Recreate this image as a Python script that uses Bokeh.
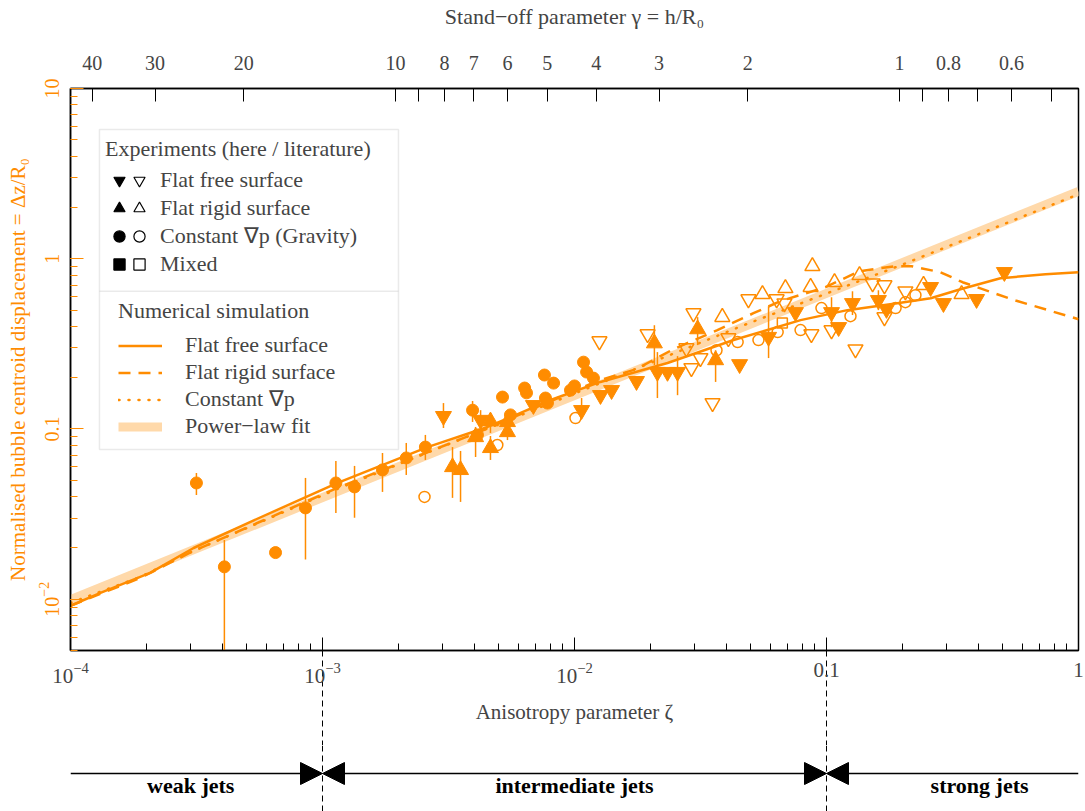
import math
from bokeh.plotting import figure
from bokeh.layouts import column
from bokeh.models import (LogAxis, FixedTicker, Range1d, Legend, LegendItem,
                          BoxAnnotation, Arrow, NormalHead, Span, LogTickFormatter)
from bokeh.embed import file_html
from bokeh.resources import INLINE
from bokeh.core.properties import value

FONT = "Liberation Serif"
ORANGE = "#FF8C00"
FIT_COLOR = "#FFD9AA"
NAN = float("nan")

# ---------------- data ----------------
# Experiments, here: constant grad p (gravity) - filled circles
zeta_grav_here = [3.16e-4, 4.08e-4, 6.51e-4, 8.56e-4, 1.13e-3, 1.34e-3, 1.73e-3, 2.15e-3,
                  2.56e-3, 3.94e-3, 5.18e-3, 4.12e-3, 5.57e-3, 6.34e-3, 6.45e-3, 7.60e-3,
                  8.26e-3, 7.67e-3, 7.81e-3, 9.64e-3, 1.00e-2, 1.086e-2, 1.117e-2, 1.189e-2]
dz_grav_here = [0.0482, 0.0155, 0.0188, 0.0344, 0.0482, 0.0457, 0.0575, 0.0676,
                0.0783, 0.129, 0.154, 0.0923, 0.121, 0.174, 0.163, 0.2075,
                0.186, 0.152, 0.142, 0.169, 0.179, 0.247, 0.216, 0.199]
lo_grav_here = [0.0410, 0.004, None, 0.0171, 0.0321, 0.0301, 0.0427, 0.0537,
                0.0658, 0.110, 0.142] + [None] * 13
hi_grav_here = [0.0552, 0.0223, None, 0.0516, 0.0649, 0.0607, 0.0723, 0.0828,
                0.0923, 0.146, 0.165] + [None] * 13

# Experiments, here: flat rigid surface - filled up triangles
zeta_rigid_here = [3.28e-3, 3.53e-3, 4.05e-3, 4.64e-3, 4.64e-3, 5.42e-3, 5.42e-3,
                   2.075e-2, 3.08e-2, 3.63e-2]
dz_rigid_here = [0.0598, 0.0575, 0.0897, 0.111, 0.0774, 0.110, 0.0960, 0.319, 0.386, 0.254]
lo_rigid_here = [0.0394, 0.0373, 0.0685, 0.0948, 0.0658, None, 0.0861, 0.237, 0.311, 0.189]
hi_rigid_here = [0.0783, 0.0743, 0.1028, 0.124, 0.0910, None, 0.107, 0.407, 0.454, 0.290]

# Experiments, here: flat free surface - filled down triangles
zeta_free_here = [3.02e-3, 4.24e-3, 6.87e-3, 1.067e-2, 1.268e-2, 1.403e-2, 1.762e-2,
                  2.133e-2, 2.339e-2, 2.564e-2, 4.52e-2, 5.89e-2, 7.53e-2, 0.1047,
                  0.1117, 0.1268, 0.1607, 0.173, 0.2588, 0.2911, 0.394, 0.508]
dz_free_here = [0.119, 0.113, 0.138, 0.129, 0.158, 0.169, 0.191, 0.216, 0.216, 0.216,
                0.240, 0.347, 0.485, 0.485, 0.396, 0.548, 0.571, 0.506, 0.681, 0.548,
                0.579, 0.834]
lo_free_here = [0.1014, 0.0986, None, 0.116, None, None, None, 0.152, None, 0.158,
                None, 0.261, None, 0.396, None, 0.467, 0.499, None, None, None, None, None]
hi_free_here = [0.142, 0.129, None, 0.152, None, None, None, 0.283, None, 0.268,
                None, 0.526, None, 0.594, None, 0.644, 0.653, None, None, None, None, None]

# Literature: flat free surface - open down triangles
zeta_free_lit = [0.01256, 0.0195, 0.02965, 0.0278, 0.0291, 0.0316, 0.0353, 0.0408, 0.049,
                 0.0634, 0.0681, 0.0871, 0.1047, 0.1303, 0.1524, 0.1698, 0.1698, 0.2056]
dz_free_lit = [0.328, 0.361, 0.479, 0.2985, 0.228, 0.261, 0.142, 0.342, 0.579,
               0.579, 0.548, 0.361, 0.381, 0.294, 0.718, 0.700, 0.454, 0.644]

# Literature: flat rigid surface - open up triangles
zeta_rigid_lit = [0.0386, 0.0557, 0.0687, 0.0879, 0.0865, 0.1076, 0.1352, 0.2427, 0.3436]
dz_rigid_lit = [0.454, 0.619, 0.671, 0.904, 0.681, 0.728, 0.800, 0.700, 0.619]

# Literature: constant grad p - open circles
zeta_grav_lit = [2.54e-3, 4.94e-3, 1.009e-2, 0.0366, 0.0444, 0.0537, 0.064, 0.0789,
                 0.0955, 0.1245, 0.188, 0.2056, 0.2254]
dz_grav_lit = [0.0399, 0.0805, 0.116, 0.290, 0.324, 0.333, 0.371, 0.381,
               0.513, 0.460, 0.513, 0.556, 0.611]

# Literature: mixed - open squares
zeta_mixed_lit = [0.0668]
dz_mixed_lit = [0.419]

# Numerical simulations
zeta_sim_free = [1.0e-4, 1.315e-4, 2.07e-4, 3.08e-4, 5.18e-4, 1.148e-3, 2.61e-3, 4.52e-3,
                 8.04e-3, 1.268e-2, 2.34e-2, 4.28e-2, 7.89e-2, 0.121, 0.191, 0.259,
                 0.340, 0.490, 0.740, 1.0]
dz_sim_free = [0.00916, 0.0109, 0.0143, 0.0200, 0.0285, 0.0482, 0.0783, 0.1028,
               0.148, 0.189, 0.244, 0.333, 0.436, 0.499, 0.548, 0.586,
               0.662, 0.769, 0.811, 0.834]

zeta_sim_rigid = [1.0e-4, 1.897e-4, 3.08e-4, 1.148e-3, 4.36e-3, 1.233e-2, 1.762e-2, 2.47e-2,
                  3.69e-2, 5.13e-2, 6.56e-2, 9.91e-2, 0.1352, 0.1862, 0.2173, 0.283,
                  0.3467, 0.557, 1.0]
dz_sim_rigid = [0.00916, 0.01337, 0.01923, 0.0451, 0.0986, 0.1914, 0.2249, 0.2944,
                0.381, 0.4786, 0.5636, 0.681, 0.845, 0.904, 0.904, 0.834,
                0.728, 0.571, 0.4416]

zeta_sim_grav = [1.0e-4, 1.897e-4, 3.08e-4, 1.148e-3, 4.36e-3, 1.268e-2, 4.69e-2, 0.197, 1.0]
dz_sim_grav = [0.00953, 0.01355, 0.01923, 0.0445, 0.0986, 0.186, 0.407, 0.916, 2.39]

# Power-law fit (end points)
zeta_fit = [1.0e-4, 1.0]
dz_fit = [0.00995, 2.49]

# Top axis: stand-off parameter, zeta = 0.195 gamma^-2
gamma_major = [40, 30, 20, 10, 8, 7, 6, 5, 4, 3, 2, 1, 0.8, 0.6]
gamma_minor = [9, 0.9, 0.7, 0.5]

# Jet regimes
regime_bounds = [1e-4, 1e-3, 0.1, 1.0]
regime_labels = ["weak jets", "intermediate jets", "strong jets"]
regime_label_x = [3.0e-4, 1.0e-2, 0.405]

# ---------------- figure ----------------
p = figure(width=1085, height=745, x_axis_type="log", y_axis_type="log",
           x_range=Range1d(1e-4, 1.0), y_range=Range1d(0.005, 10.0),
           output_backend="svg", toolbar_location=None,
           min_border_left=70, min_border_right=7, min_border_top=88, min_border_bottom=95,
           outline_line_color="black", outline_line_width=1.5)
p.grid.visible = False

def style_axis(ax, label_size="20px"):
    ax.axis_label_text_font = FONT
    ax.axis_label_text_font_style = "normal"
    ax.axis_label_text_font_size = "21px"
    ax.major_label_text_font = FONT
    ax.major_label_text_font_size = label_size
    ax.axis_line_width = 1.5
    ax.major_tick_in = 13
    ax.major_tick_out = 0
    ax.minor_tick_in = 7
    ax.minor_tick_out = 0
    ax.major_tick_line_width = 1
    ax.minor_tick_line_width = 1

xa = p.xaxis[0]
style_axis(xa, "21px")
xa.axis_label = "Anisotropy parameter ζ"
xa.formatter = LogTickFormatter(min_exponent=2)
xa.major_label_standoff = 12
xa.axis_label_standoff = 14

ya = p.yaxis[0]
style_axis(ya, "20px")
ya.axis_label = "Normalised bubble centroid displacement = Δz/R₀"
ya.axis_label_text_color = ORANGE
ya.major_label_text_color = ORANGE
ya.major_tick_line_color = ORANGE
ya.minor_tick_line_color = ORANGE
ya.formatter = LogTickFormatter(min_exponent=2)
ya.major_label_orientation = "vertical"
ya.major_label_standoff = 12
ya.axis_label_standoff = 6

top_major = [0.195 / g ** 2 for g in gamma_major]
top_minor = [0.195 / g ** 2 for g in gamma_minor]
top = LogAxis(ticker=FixedTicker(ticks=top_major, minor_ticks=top_minor),
              major_label_overrides={z: str(g) for z, g in zip(top_major, gamma_major)},
              axis_label="Stand−off parameter γ = h/R₀")
style_axis(top, "20px")
top.axis_label_text_font_size = "22px"
top.minor_tick_in = 13
top.major_label_standoff = 19
top.axis_label_standoff = 24
p.add_layout(top, "above")

# regime boundaries continued through the bottom axis area (dashed ticks of a bare axis)
bound_axis = LogAxis(ticker=FixedTicker(ticks=regime_bounds[1:3], minor_ticks=[]),
                     axis_line_color=None, major_tick_in=-95, major_tick_out=0,
                     major_tick_line_color="black", major_tick_line_width=1,
                     major_tick_line_dash="6 4", minor_tick_in=0, minor_tick_out=0,
                     major_label_text_font_size="0px", major_label_text_alpha=0.0,
                     major_label_standoff=0)
p.below = [bound_axis] + list(p.below)

# power-law fit and simulations
r_fit = p.line(zeta_fit, dz_fit, line_color=FIT_COLOR, line_width=9)
r_grav = p.line(zeta_sim_grav, dz_sim_grav, line_color=ORANGE, line_width=2.5,
                line_dash="1 9", line_cap="round")
r_rigid = p.line(zeta_sim_rigid, dz_sim_rigid, line_color=ORANGE, line_width=2.5,
                 line_dash="12 8")
r_free = p.line(zeta_sim_free, dz_sim_free, line_color=ORANGE, line_width=2.5)

# error bars
def bars(z, lo, hi):
    xs = [a for a, l in zip(z, lo) if l is not None]
    los = [l for l in lo if l is not None]
    his = [h for h in hi if h is not None]
    p.segment(x0=xs, y0=los, x1=xs, y1=his, line_color=ORANGE, line_width=1.5)

bars(zeta_grav_here, lo_grav_here, hi_grav_here)
bars(zeta_rigid_here, lo_rigid_here, hi_rigid_here)
bars(zeta_free_here, lo_free_here, hi_free_here)

# experimental markers
p.scatter(zeta_grav_here, dz_grav_here, marker="circle", size=12, fill_color=ORANGE, line_color=ORANGE)
p.scatter(zeta_rigid_here, dz_rigid_here, marker="triangle", size=16, fill_color=ORANGE, line_color=ORANGE)
p.scatter(zeta_free_here, dz_free_here, marker="inverted_triangle", size=16, fill_color=ORANGE, line_color=ORANGE)
p.scatter(zeta_free_lit, dz_free_lit, marker="inverted_triangle", size=15, fill_color=None,
          line_color=ORANGE, line_width=1.5)
p.scatter(zeta_rigid_lit, dz_rigid_lit, marker="triangle", size=15, fill_color=None,
          line_color=ORANGE, line_width=1.5)
p.scatter(zeta_grav_lit, dz_grav_lit, marker="circle", size=11, fill_color=None,
          line_color=ORANGE, line_width=1.5)
p.scatter(zeta_mixed_lit, dz_mixed_lit, marker="square", size=10, fill_color=None,
          line_color=ORANGE, line_width=1.5)

# legend key renderers (black markers, not placed in the data area)
def key(marker, filled):
    return p.scatter([NAN], [NAN], marker=marker, fill_color="black" if filled else None,
                     line_color="black", line_width=1.2)

markers = ["inverted_triangle", "triangle", "circle", "square"]
exp_labels = ["Flat free surface", "Flat rigid surface", "Constant ∇p (Gravity)", "Mixed"]
keys_filled = [key(m, True) for m in markers]
keys_open = [key(m, False) for m in markers]

# legend frame
p.add_layout(BoxAnnotation(left=1.303e-4, right=2.002e-3, top=5.743, bottom=0.0758,
                           fill_color="white", fill_alpha=1.0, line_color="#b8b8b8",
                           line_width=1.5))
p.add_layout(BoxAnnotation(left=1.303e-4, right=2.002e-3, top=0.645, bottom=0.645,
                           fill_alpha=0.0, line_color="#b8b8b8", line_width=1.5))

def legend(items, loc, title=None, gw=27, gh=27, lh=27, standoff=8, lstand=7):
    lg = Legend(items=items, location=loc, padding=0, margin=0, spacing=0,
                glyph_width=gw, glyph_height=gh, label_height=lh, label_width=10,
                label_standoff=lstand,
                label_text_font=FONT, label_text_font_size="22px",
                background_fill_alpha=0.0, border_line_alpha=0.0)
    if title is not None:
        lg.title = title
        lg.title_text_font = FONT
        lg.title_text_font_size = "22px"
        lg.title_text_font_style = "normal"
        lg.title_standoff = standoff
    return lg

leg_filled = legend([LegendItem(label=" ", renderers=[r]) for r in keys_filled],
                    (35, 372), title="Experiments (here / literature)",
                    gw=28, gh=28, lh=28, standoff=4)
leg_open = legend([LegendItem(label=l, renderers=[r]) for l, r in zip(exp_labels, keys_open)],
                  (55, 372), gw=28, gh=28, lh=28, lstand=7)
leg_sim = legend([LegendItem(label="Flat free surface", renderers=[r_free]),
                  LegendItem(label="Flat rigid surface", renderers=[r_rigid]),
                  LegendItem(label="Constant ∇p", renderers=[r_grav]),
                  LegendItem(label="Power−law fit", renderers=[r_fit])],
                 (48, 210.5), title="Numerical simulation", gw=44, gh=27, standoff=8, lstand=23)
for lg in (leg_filled, leg_open, leg_sim):
    p.add_layout(lg, "center")

# ---------------- regime strip ----------------
p2 = figure(width=1085, height=66, x_axis_type="log", x_range=p.x_range,
            y_range=Range1d(0, 66), x_axis_location=None, y_axis_location=None,
            output_backend="svg", toolbar_location=None,
            min_border_left=70, min_border_right=7, min_border_top=0, min_border_bottom=0,
            outline_line_color=None)
p2.grid.visible = False
for b in regime_bounds[1:3]:
    p2.add_layout(Span(location=b, dimension="height", line_color="black",
                       line_width=1, line_dash="6 4"))
for i in range(3):
    start = NormalHead(size=22, fill_color="black", line_color="black") if i > 0 else None
    end = NormalHead(size=22, fill_color="black", line_color="black") if i < 2 else None
    p2.add_layout(Arrow(x_start=regime_bounds[i], x_end=regime_bounds[i + 1], y_start=38, y_end=38,
                        start=start, end=end, line_color="black", line_width=1.5))
p2.text(x=regime_label_x, y=[26, 26, 26], text=regime_labels, text_align="center",
        text_baseline="middle", text_font=value(FONT), text_font_size="22px",
        text_font_style="bold", text_color="black")

layout = column(p, p2, spacing=0)
open("out.html", "w").write(file_html(layout, INLINE))
